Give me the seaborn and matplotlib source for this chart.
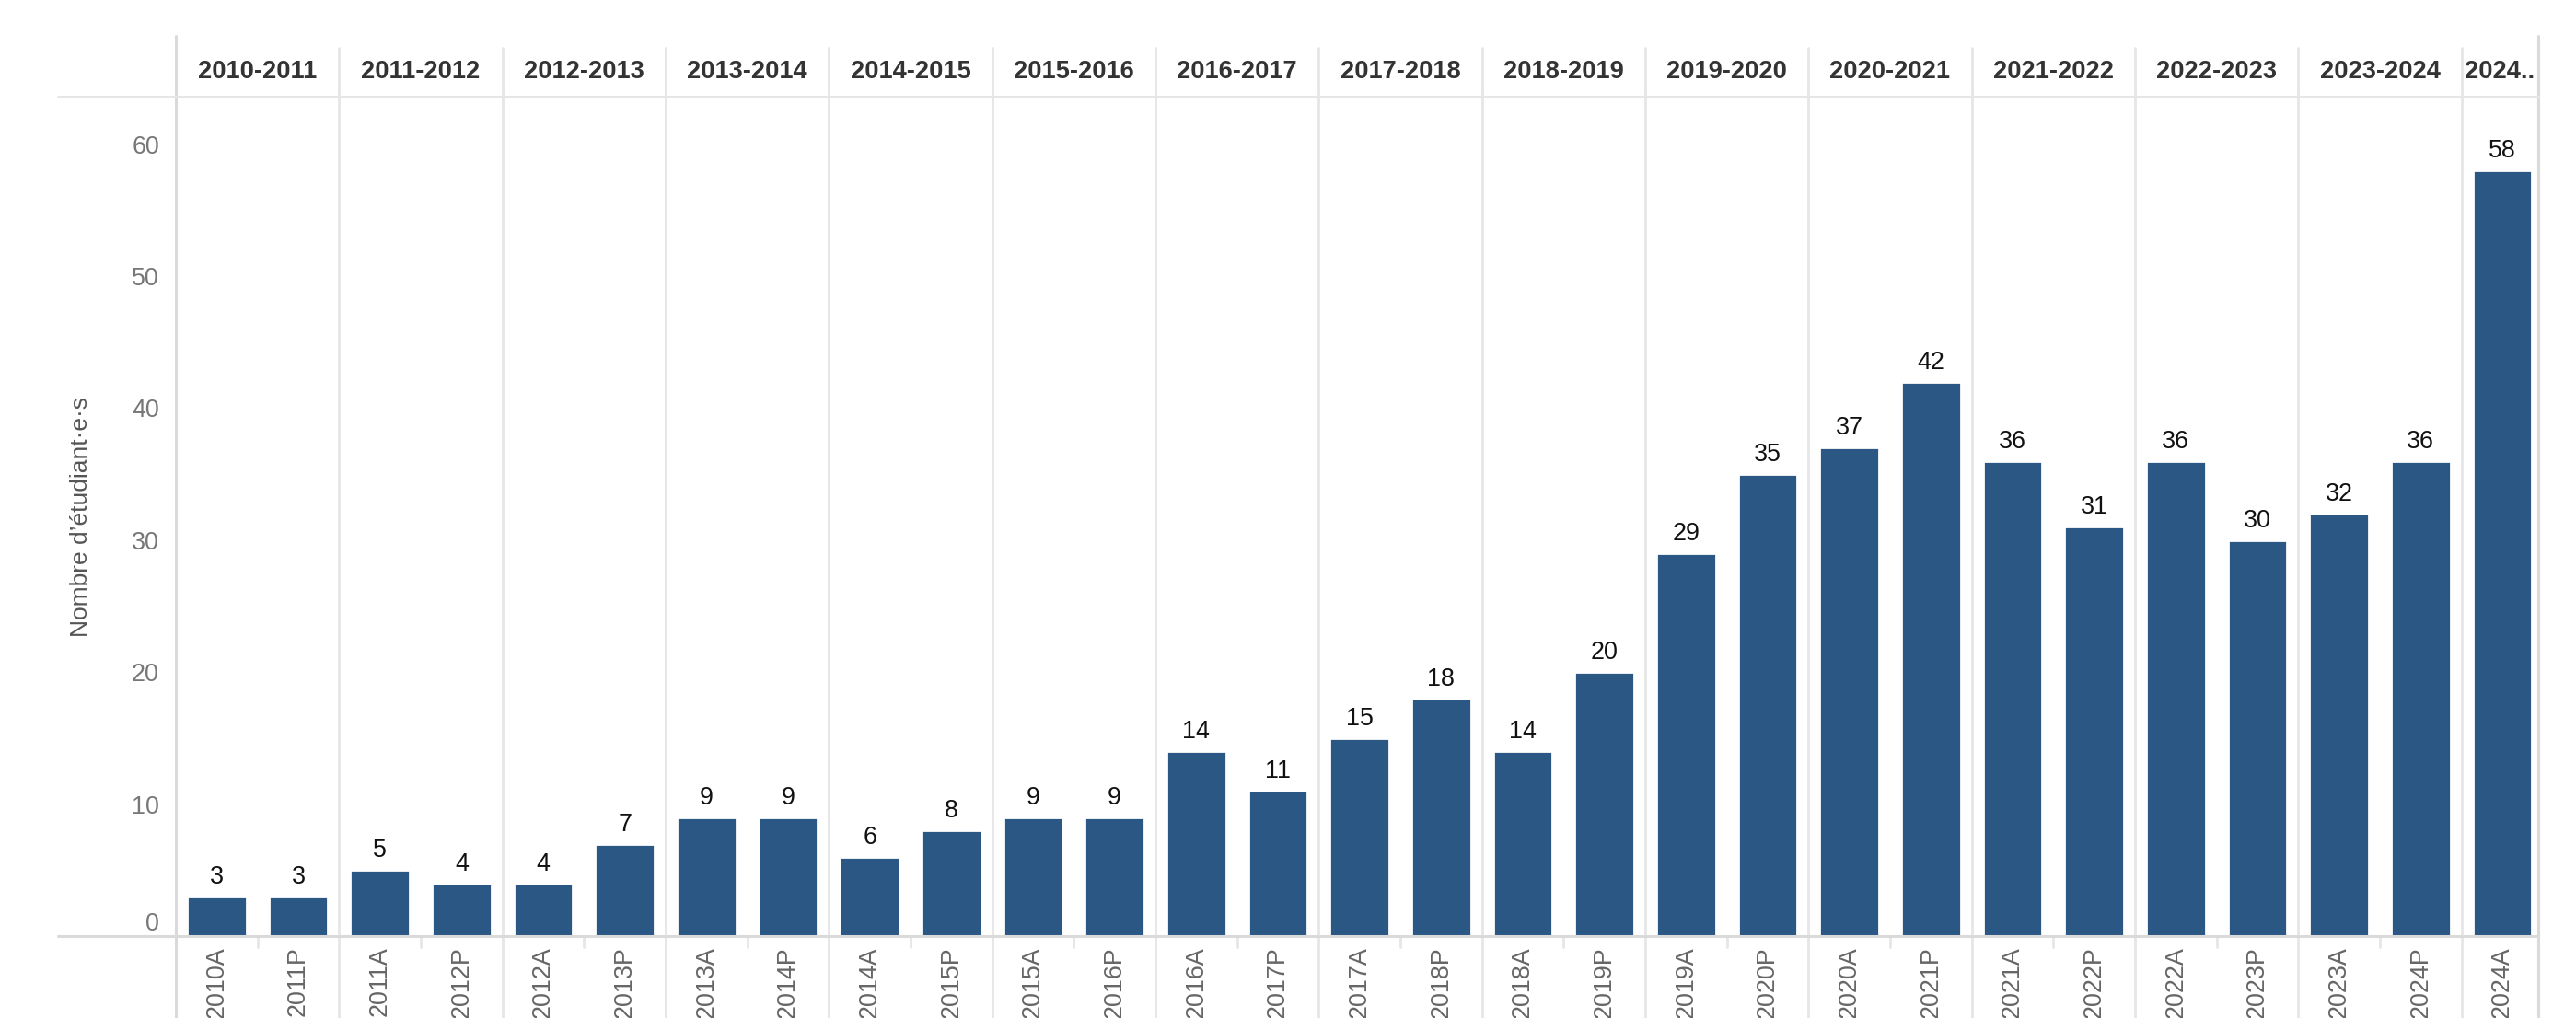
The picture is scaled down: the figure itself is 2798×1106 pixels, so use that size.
import pandas as pd
import matplotlib.pyplot as plt
import seaborn as sns
from matplotlib import transforms

# -----------------------------
# Data
# -----------------------------
periods = [
    "2010-2011", "2011-2012", "2012-2013", "2013-2014", "2014-2015",
    "2015-2016", "2016-2017", "2017-2018", "2018-2019", "2019-2020",
    "2020-2021", "2021-2022", "2022-2023", "2023-2024", "2024..",
]
bar_labels = [
    "2010A", "2011P", "2011A", "2012P", "2012A", "2013P", "2013A", "2014P",
    "2014A", "2015P", "2015A", "2016P", "2016A", "2017P", "2017A", "2018P",
    "2018A", "2019P", "2019A", "2020P", "2020A", "2021P", "2021A", "2022P",
    "2022A", "2023P", "2023A", "2024P", "2024A",
]
students = [3, 3, 5, 4, 4, 7, 9, 9, 6, 8, 9, 9, 14, 11, 15, 18, 14, 20,
            29, 35, 37, 42, 36, 31, 36, 30, 32, 36, 58]

df = pd.DataFrame({"label": bar_labels, "n": students})

BAR = "#2b5784"
LINE = "#dadada"
LINE_LIGHT = "#e6e6e6"

sns.set_style("white")
plt.rcParams["font.family"] = ["Liberation Sans", "DejaVu Sans"]

W, H = 2798, 1106
fig = plt.figure(figsize=(W / 200, H / 200), dpi=200)
left, right, top, bottom = 191, 2757, 105, 1017
ax = fig.add_axes([left / W, 1 - bottom / H, (right - left) / W, (bottom - top) / H])

sns.barplot(data=df, x="label", y="n", order=bar_labels, color=BAR,
            saturation=1, width=0.73, ax=ax)

xmax = 28.44
ax.set_xlim(-0.5, xmax)
ax.set_ylim(0, 63.6)
ax.set_yticks(range(0, 61, 10))
ax.set_xlabel("")
ax.set_ylabel("Nombre d’étudiant·e·s", fontsize=9.5, color="#555555")
ax.yaxis.set_label_coords(-0.0355, 0.5)
for s in ax.spines.values():
    s.set_visible(False)

ax.tick_params(axis="y", length=4.3, width=0.8, color=LINE, pad=2.2,
               labelsize=9.7, labelcolor="#777777")
ax.tick_params(axis="x", length=0, pad=4, labelsize=9.7,
               labelcolor="#666666", labelrotation=90)
ax.get_yticklabels()[0].set_va("bottom")

for c in ax.containers:
    ax.bar_label(c, padding=2.9, fontsize=9.7, color="#111111")

# -----------------------------
# Panel frame (Tableau style)
# -----------------------------
trans = transforms.blended_transform_factory(ax.transData, ax.transAxes)
for x in [-0.5, xmax]:
    ax.plot([x, x], [-0.12, 1.0724], transform=trans, color=LINE, lw=1.1,
            clip_on=False)
for k in range(14):
    x = 2 * k + 1.5
    ax.plot([x, x], [-0.12, 1.058], transform=trans, color=LINE_LIGHT,
            lw=1.0, clip_on=False)
    ax.plot([x - 1, x - 1], [0, -0.013], transform=trans, color=LINE_LIGHT,
            lw=1.0, clip_on=False)
for y, col in [(0, LINE), (1, LINE_LIGHT)]:
    ax.plot([-0.0499, 1], [y, y], transform=ax.transAxes, color=col,
            lw=1.1, clip_on=False)

for k, p in enumerate(periods):
    x = 2 * k + 0.5 if k < 14 else (27.5 + xmax) / 2
    ax.text(x, 1.0296, p, transform=trans, ha="center", va="center",
            fontsize=9.8, fontweight="bold", color="#333333")

fig.savefig("out.png", dpi=200)
plt.close()
